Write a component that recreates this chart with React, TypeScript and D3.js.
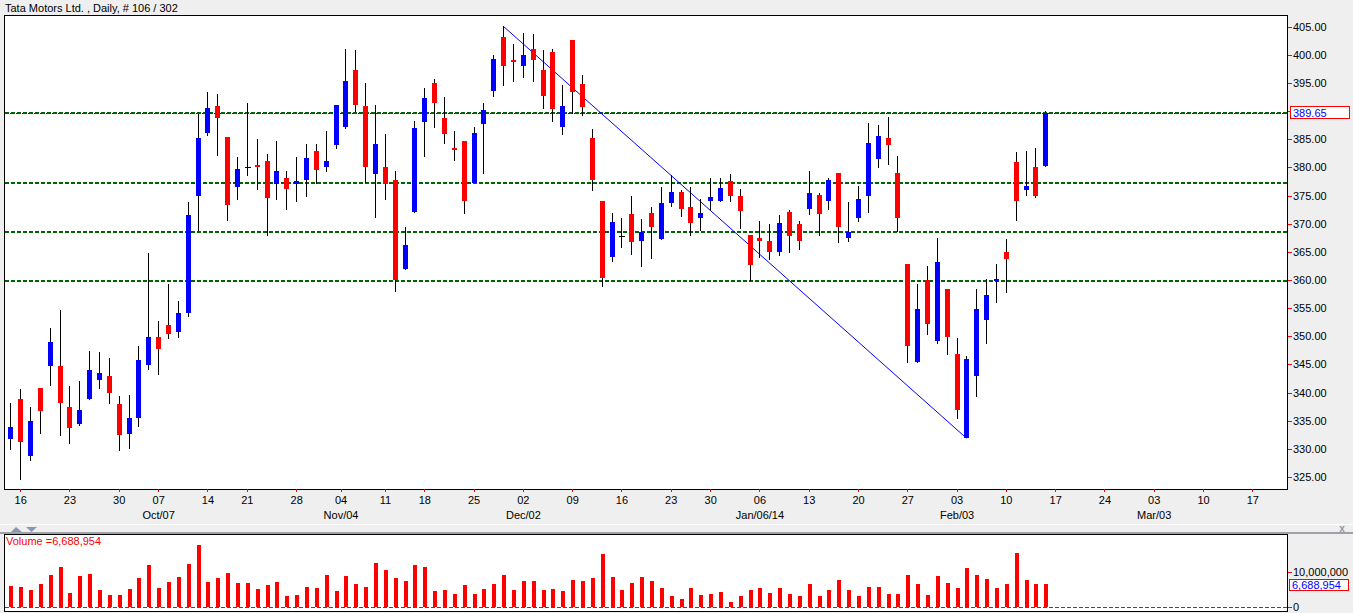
import * as d3 from 'd3';

// OHLC (106 daily candles)
const opens = [
  331.8, 338.9, 328.8, 340.8, 344.7, 344.7, 337.4, 334.5, 338.9, 342.3,
  342.9, 338.0, 332.7, 335.5, 344.9, 349.9, 352.0, 350.8, 354.2, 375.0,
  386.2, 390.9, 385.4, 376.6, 380.0, 380.4, 381.1, 377.1, 378.1, 377.1,
  377.8, 382.9, 380.1, 384.0, 387.1, 397.3, 390.9, 378.9, 380.1, 377.8,
  362.0, 372.1, 388.1, 395.0, 388.8, 383.5, 384.7, 377.3, 387.7, 393.6,
  403.2, 399.1, 398.0, 401.0, 397.3, 400.5, 387.1, 402.6, 394.8, 385.2,
  374.0, 364.1, 367.9, 371.7, 366.9, 371.9, 367.3, 373.7, 375.6, 373.0,
  371.0, 374.0, 374.0, 377.6, 374.9, 368.0, 367.5, 366.9, 365.0, 372.1,
  369.9, 372.6, 375.1, 374.0, 379.0, 367.5, 371.0, 374.9, 381.5, 385.2,
  379.0, 362.8, 345.4, 360.0, 349.2, 358.4, 346.9, 331.9, 343.0, 352.9,
  360.0, 365.0, 381.0, 376.0, 380.1, 380.3,
];
const highs = [
  338.2, 340.6, 337.4, 340.8, 351.5, 354.7, 341.2, 342.1, 347.4, 347.2,
  346.1, 339.4, 339.6, 348.3, 364.8, 352.7, 359.3, 356.3, 373.9, 389.5,
  393.4, 393.0, 385.4, 381.9, 391.4, 385.1, 382.4, 384.7, 379.4, 381.9,
  384.2, 384.2, 386.5, 391.1, 401.0, 400.9, 395.0, 391.1, 385.9, 379.4,
  369.4, 388.3, 394.1, 395.7, 392.5, 386.5, 384.7, 387.2, 391.4, 400.0,
  405.1, 401.9, 403.9, 403.7, 400.9, 401.0, 394.6, 402.6, 396.4, 386.8,
  374.0, 371.9, 371.0, 374.9, 370.8, 373.0, 376.5, 378.7, 376.0, 376.5,
  374.4, 378.1, 378.1, 378.8, 376.2, 368.0, 370.5, 370.0, 371.6, 372.4,
  370.5, 379.4, 375.5, 378.1, 379.0, 373.9, 376.7, 387.9, 387.5, 389.0,
  382.0, 362.8, 359.3, 362.5, 367.5, 358.4, 349.7, 346.5, 358.4, 360.2,
  362.8, 367.3, 382.7, 382.9, 383.5, 390.0,
];
const lows = [
  329.8, 324.5, 327.9, 332.7, 341.1, 332.2, 330.8, 334.0, 338.7, 340.7,
  338.0, 329.7, 330.0, 333.8, 344.0, 343.1, 349.5, 349.7, 353.5, 368.7,
  385.6, 382.1, 370.4, 374.3, 378.5, 375.9, 367.9, 374.3, 372.5, 373.9,
  374.8, 377.1, 379.1, 383.2, 386.9, 389.9, 377.3, 371.1, 374.2, 357.9,
  361.8, 371.9, 381.9, 387.0, 384.2, 381.1, 371.7, 377.3, 378.8, 392.5,
  394.5, 395.2, 395.9, 395.1, 390.4, 388.1, 385.8, 389.5, 389.1, 375.8,
  358.8, 363.2, 365.7, 364.4, 362.3, 363.7, 367.1, 373.0, 371.2, 367.8,
  368.7, 372.3, 373.9, 373.9, 369.1, 359.8, 363.9, 363.6, 364.3, 364.8,
  365.3, 371.6, 367.8, 372.4, 366.6, 366.8, 370.3, 371.9, 379.9, 380.4,
  368.5, 345.3, 345.3, 350.2, 348.6, 346.7, 335.3, 331.9, 339.2, 348.6,
  355.9, 357.7, 370.5, 374.9, 374.6, 380.1,
];
const closes = [
  333.9, 331.3, 335.0, 336.8, 349.0, 338.2, 333.7, 336.9, 344.0, 343.5,
  340.0, 332.4, 335.5, 345.8, 349.9, 347.7, 350.4, 354.1, 371.6, 385.2,
  390.6, 388.8, 373.4, 379.7, 380.0, 380.1, 374.6, 379.4, 376.2, 377.6,
  381.7, 379.6, 381.1, 391.1, 395.4, 391.1, 380.1, 384.2, 377.1, 360.0,
  366.2, 387.0, 392.3, 391.4, 385.9, 383.2, 374.0, 386.1, 390.2, 399.3,
  398.0, 398.7, 400.0, 399.1, 392.7, 390.4, 390.9, 393.4, 390.7, 377.8,
  360.4, 370.3, 367.9, 366.8, 368.5, 369.4, 373.7, 375.6, 372.6, 370.1,
  371.9, 374.8, 376.3, 374.9, 372.3, 362.7, 366.9, 365.0, 370.1, 367.8,
  366.9, 375.5, 371.7, 377.8, 369.4, 368.5, 374.4, 384.3, 385.6, 384.0,
  371.0, 348.3, 354.9, 352.2, 363.2, 349.9, 336.9, 346.0, 354.9, 357.3,
  360.2, 363.7, 374.0, 376.7, 374.9, 389.65,
];
// volume in millions
const volumeM = [
  6.0, 5.7, 4.86, 6.57, 9.14, 11.43, 4.0, 8.86, 9.43, 4.86,
  3.43, 3.43, 5.14, 8.29, 12.0, 5.43, 7.14, 8.57, 12.29, 17.71,
  7.14, 8.29, 9.71, 6.86, 6.86, 5.14, 6.29, 7.14, 3.14, 3.43,
  5.7, 5.43, 9.14, 4.57, 8.86, 6.57, 5.7, 12.57, 10.57, 8.29,
  7.43, 12.0, 11.43, 4.57, 4.86, 3.71, 6.29, 3.71, 5.14, 6.57,
  9.14, 4.86, 7.43, 7.43, 4.86, 5.14, 4.57, 7.71, 7.43, 8.29,
  15.14, 8.57, 4.86, 6.86, 8.57, 7.43, 5.43, 3.14, 2.29, 5.43,
  3.43, 3.71, 4.29, 1.43, 3.14, 4.86, 5.43, 4.0, 5.43, 3.71,
  3.14, 6.57, 3.14, 4.86, 7.71, 4.86, 3.14, 5.7, 5.7, 3.71,
  3.71, 9.14, 6.57, 3.43, 8.86, 6.86, 5.43, 11.14, 9.14, 8.0,
  5.43, 6.57, 15.43, 7.71, 6.57, 6.688954,
];

const priceTicks = d3.range(325, 406, 5);
const levels = [377.25, 368.55, 359.9];
const lastLevel = 389.65;
const trendFrom = 50;
const trendTo = 97;

const dayTickIdx = [1, 6, 11, 15, 20, 24, 29, 33.5, 38, 42, 47, 52, 57, 62, 67, 71, 76, 81, 86, 91, 96, 101, 106, 111, 116, 121, 126];
const dayTickLabels = ['16', '23', '30', '07', '14', '21', '28', '04', '11', '18', '25', '02', '09', '16', '23', '30', '06', '13', '20', '27', '03', '10', '17', '24', '03', '10', '17'];
const monthIdx = [15, 33.5, 52, 76, 96, 116];
const monthLabels = ['Oct/07', 'Nov/04', 'Dec/02', 'Jan/06/14', 'Feb/03', 'Mar/03'];

const W = 1353;
const H = 613;
const L = 4;
const R = 1287;
const PT = 15;
const PB = 489;
const VT = 534;
const VB = 612;
const FONT = "'Liberation Sans', Arial, sans-serif";

export default function App() {
  const x = d3.scaleLinear().domain([0, 105]).range([10.3, 1045.3]);
  const y = d3.scaleLinear().domain([325, 405]).range([477, 26.7]);
  const yv = d3.scaleLinear().domain([0, 10]).range([607, 572]);
  const fmt = d3.format(',');
  const lastVol = volumeM[volumeM.length - 1] * 1e6;

  const cx = (i: number) => Math.round(x(i));

  return (
    <svg
      width={W}
      height={H}
      style={{ position: 'absolute', left: 0, top: 0, background: '#efefef' }}
      fontFamily={FONT}
    >
      <defs>
        <clipPath id="plotClip">
          <rect x={L} y={PT} width={R - L} height={PB - PT} />
        </clipPath>
      </defs>

      {/* title */}
      <text x={5} y={12} fontSize={11} fill="#000">Tata Motors Ltd. , Daily, # 106 / 302</text>

      {/* price panel */}
      <rect x={L + 0.5} y={PT + 0.5} width={R - L} height={PB - PT} fill="#fff" stroke="#000" shapeRendering="crispEdges" />
      <g clipPath="url(#plotClip)" shapeRendering="crispEdges">
        <line x1={L} x2={R} y1={Math.round(y(lastLevel)) + 0.5} y2={Math.round(y(lastLevel)) + 0.5} stroke="#0000ff" strokeDasharray="3,3" />
        {[lastLevel, ...levels].map((v, i) => (
          <line key={i} x1={L + 1} x2={R} y1={Math.round(y(v))} y2={Math.round(y(v))} stroke="#006400" strokeWidth={2} strokeDasharray="4,2" />
        ))}
      </g>
      <g clipPath="url(#plotClip)">
        <line x1={x(trendFrom)} y1={y(highs[trendFrom])} x2={x(trendTo)} y2={y(lows[trendTo])} stroke="#0000ff" strokeWidth={1} />
      </g>
      <g shapeRendering="crispEdges">
        {opens.map((o, i) => {
          const c = closes[i];
          const xi = cx(i);
          const top = Math.round(y(Math.max(o, c)));
          const bot = Math.round(y(Math.min(o, c)));
          return (
            <g key={i}>
              <line x1={xi + 0.5} x2={xi + 0.5} y1={Math.round(y(highs[i]))} y2={Math.round(y(lows[i]))} stroke="#000" />
              {o === c ? (
                <line x1={xi - 2} x2={xi + 4} y1={top + 0.5} y2={top + 0.5} stroke="#000" />
              ) : (
                <rect x={xi - 2} y={top} width={5} height={Math.max(2, bot - top)} fill={c > o ? '#0000ff' : '#ff0000'} />
              )}
            </g>
          );
        })}
      </g>

      {/* price axis */}
      <g shapeRendering="crispEdges">
        {priceTicks.map((t) => (
          <g key={t}>
            <line x1={R + 1} x2={R + 5} y1={Math.round(y(t)) + 0.5} y2={Math.round(y(t)) + 0.5} stroke="#ff0000" />
            <text x={R + 6} y={y(t) + 4} fontSize={11} fill="#000">{t.toFixed(2)}</text>
          </g>
        ))}
        <rect x={1290.5} y={Math.round(y(lastLevel)) - 6.5} width={59} height={12} fill="#fff" stroke="#ff0000" />
        <text x={1293} y={y(lastLevel) + 4} fontSize={11} fill="#0000ff">{lastLevel.toFixed(2)}</text>
      </g>

      {/* date axis */}
      <g>
        {dayTickIdx.map((t, i) => (
          <g key={i}>
            <line x1={cx(t) + 0.5} x2={cx(t) + 0.5} y1={PB} y2={PB + 3} stroke="#ff0000" shapeRendering="crispEdges" />
            <text x={x(t) + 0.5} y={504} fontSize={11} textAnchor="middle" fill="#000">{dayTickLabels[i]}</text>
          </g>
        ))}
        {monthIdx.map((t, i) => (
          <text key={i} x={x(t) + 0.5} y={519} fontSize={11} textAnchor="middle" fill="#000">{monthLabels[i]}</text>
        ))}
      </g>

      {/* splitter */}
      <line x1={0} x2={W} y1={524.5} y2={524.5} stroke="#fff" shapeRendering="crispEdges" />
      <rect x={0} y={532} width={W} height={2} fill="#a0a0a8" shapeRendering="crispEdges" />
      <path d="M11,532 L16,527 L22,532 Z" fill="#8a96b0" />
      <path d="M26,527 L37,527 L31.5,532 Z" fill="#8a96b0" />
      <text x={1342} y={532} fontSize={10} fontWeight="bold" textAnchor="middle" fill="#8a96b0">x</text>

      {/* volume panel */}
      <rect x={L + 0.5} y={VT + 0.5} width={R - L} height={VB - VT - 1} fill="#fff" stroke="#000" shapeRendering="crispEdges" />
      <line x1={L + 1} x2={R} y1={607.5} y2={607.5} stroke="#ff0000" strokeDasharray="4,2" shapeRendering="crispEdges" />
      <g shapeRendering="crispEdges">
        {volumeM.map((v, i) => (
          <rect key={i} x={cx(i) - 1} y={Math.round(yv(v))} width={4} height={607 - Math.round(yv(v))} fill="#ff0000" />
        ))}
      </g>
      <text x={6} y={545} fontSize={11} fill="#ff0000">Volume ={fmt(lastVol)}</text>

      {/* volume axis */}
      <g shapeRendering="crispEdges">
        {[0, 10].map((t) => (
          <g key={t}>
            <line x1={R + 1} x2={R + 5} y1={Math.round(yv(t)) + 0.5} y2={Math.round(yv(t)) + 0.5} stroke="#ff0000" />
            <text x={R + 6} y={yv(t) + 4} fontSize={11} fill="#000">{fmt(t * 1e6)}</text>
          </g>
        ))}
        <rect x={1289.5} y={579.5} width={59} height={11} fill="#fff" stroke="#ff0000" />
        <text x={1292} y={589} fontSize={11} fill="#0000ff">{fmt(lastVol)}</text>
      </g>
    </svg>
  );
}
